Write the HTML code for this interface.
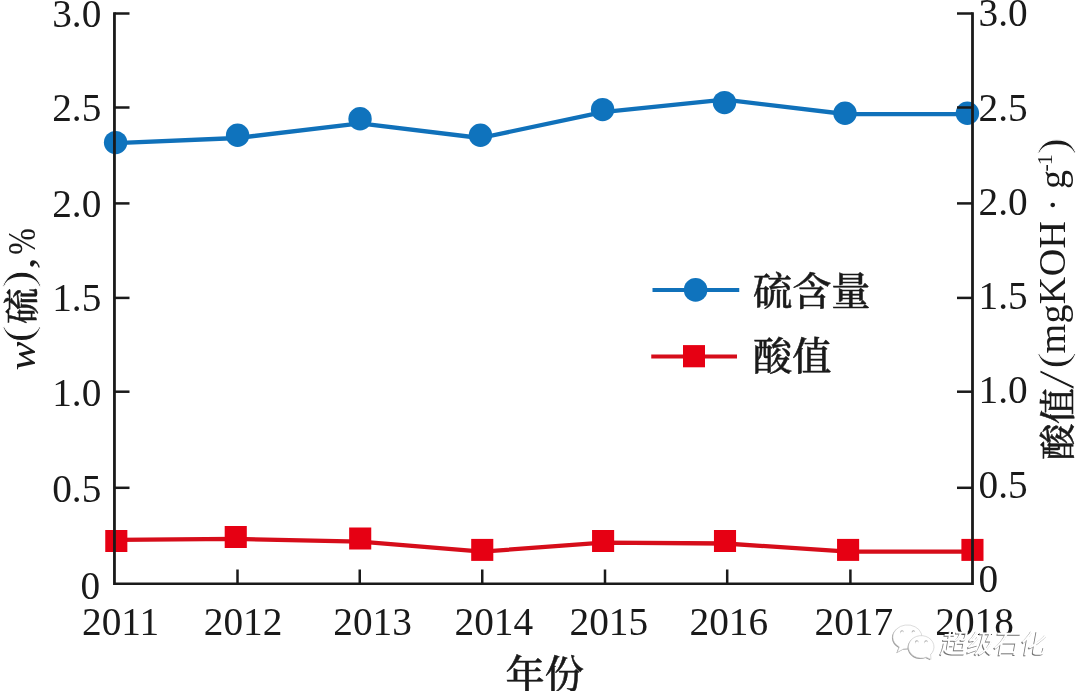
<!DOCTYPE html>
<html lang="zh"><head><meta charset="utf-8"><title>硫含量 酸值</title>
<style>
html,body{margin:0;padding:0;background:#fff;}
body{width:1080px;height:691px;overflow:hidden;}
svg{display:block;}
text{white-space:pre;}
.n{font-family:"Liberation Serif","Noto Serif CJK SC",serif;font-size:39.3px;fill:#1a1a1a;}
.i{font-family:"Liberation Serif","Noto Serif CJK SC",serif;font-style:italic;fill:#1a1a1a;}
.c{font-family:"Liberation Serif","Noto Serif CJK SC",serif;font-weight:500;fill:#1a1a1a;}
.b{stroke:#1a1a1a;stroke-width:0.5px;}
.w{font-family:"Liberation Sans","Noto Sans CJK SC",sans-serif;font-size:26.5px;}
</style></head><body>
<svg width="1080" height="691" viewBox="0 0 1080 691">
<rect width="1080" height="691" fill="#fff"/>
<polyline points="115.6,143.2 237.6,138 360,123.3 480.4,138 602.6,112.1 724.5,99.6 845,114 967.4,114.1" fill="none" stroke="#1071ba" stroke-width="4.3" stroke-linejoin="round"/>
<circle cx="115.6" cy="142.6" r="11.7" fill="#0f73bd"/><circle cx="237.6" cy="135.2" r="11.7" fill="#0f73bd"/><circle cx="360.05" cy="118.8" r="11.7" fill="#0f73bd"/><circle cx="480.45" cy="135.2" r="11.7" fill="#0f73bd"/><circle cx="602.6" cy="109.6" r="11.7" fill="#0f73bd"/><circle cx="724.5" cy="102.6" r="11.7" fill="#0f73bd"/><circle cx="845" cy="113.2" r="11.7" fill="#0f73bd"/><circle cx="967.4" cy="113.2" r="11.7" fill="#0f73bd"/>
<polyline points="116.3,539.8 235.75,538.9 360.2,541.6 482.25,551.6 603.1,542.7 725,543.5 848.1,551.6 972.45,551.7" fill="none" stroke="#d60d1a" stroke-width="4.3" stroke-linejoin="round"/>
<rect x="105.25" y="530" width="22.1" height="22" fill="#e60013"/><rect x="224.7" y="526" width="22.1" height="22" fill="#e60013"/><rect x="349.15" y="527.5" width="22.1" height="22" fill="#e60013"/><rect x="471.2" y="538.9" width="22.1" height="22" fill="#e60013"/><rect x="592.05" y="530" width="22.1" height="22" fill="#e60013"/><rect x="713.95" y="530" width="22.1" height="22" fill="#e60013"/><rect x="837.05" y="538.9" width="22.1" height="22" fill="#e60013"/><rect x="961.4" y="538.9" width="22.1" height="22" fill="#e60013"/>
<g stroke="#1a1a1a" stroke-width="2.8" fill="none" stroke-linecap="butt">
<path d="M114.45 12.25 V584.9"/><path d="M972.5 12.25 V584.9"/>
<path d="M114.45 583.7 H972.5" stroke-width="2.4"/>
</g>
<g stroke="#1a1a1a" stroke-width="2.5" fill="none">
<path d="M114.45 13.50 H129.5"/><path d="M972.5 13.50 H957"/>
<path d="M114.45 107.50 H129.5"/><path d="M972.5 107.50 H957"/>
<path d="M114.45 203.40 H129.5"/><path d="M972.5 203.40 H957"/>
<path d="M114.45 297.90 H129.5"/><path d="M972.5 297.90 H957"/>
<path d="M114.45 391.70 H129.5"/><path d="M972.5 391.70 H957"/>
<path d="M114.45 487.80 H129.5"/><path d="M972.5 487.80 H957"/>
<path d="M237.50 583.7 V569.5"/>
<path d="M359.75 583.7 V569.5"/>
<path d="M482.25 583.7 V569.5"/>
<path d="M605.00 583.7 V569.5"/>
<path d="M727.20 583.7 V569.5"/>
<path d="M850.40 583.7 V569.5"/>
</g>
<path d="M652.5 289.9 H739.25" stroke="#1071ba" stroke-width="4"/><circle cx="695.6" cy="289.9" r="11.8" fill="#0f73bd"/>
<path d="M651.25 356.4 H737" stroke="#d60d1a" stroke-width="4"/><rect x="683" y="345.1" width="22" height="22.2" fill="#e60013"/>
<text class="c b" x="753" y="304.6" font-size="39.2">硫含量</text>
<text class="c b" x="753" y="369.6" font-size="39.2">酸值</text>
<text class="n" x="101.3" y="26.70" text-anchor="end">3.0</text>
<text class="n" x="101.3" y="121.00" text-anchor="end">2.5</text>
<text class="n" x="101.3" y="217.10" text-anchor="end">2.0</text>
<text class="n" x="101.3" y="311.40" text-anchor="end">1.5</text>
<text class="n" x="101.3" y="405.50" text-anchor="end">1.0</text>
<text class="n" x="101.3" y="501.80" text-anchor="end">0.5</text>
<text class="n" x="100.2" y="599.00" text-anchor="end">0</text>
<text class="n" x="978.6" y="26.40">3.0</text>
<text class="n" x="978.6" y="120.65">2.5</text>
<text class="n" x="978.6" y="214.90">2.0</text>
<text class="n" x="978.6" y="309.15">1.5</text>
<text class="n" x="978.6" y="403.40">1.0</text>
<text class="n" x="978.6" y="497.65">0.5</text>
<text class="n" x="978.6" y="591.90">0</text>
<text class="n" x="82.05" y="635.2">2011</text>
<text class="n" x="203.8" y="635.2">2012</text>
<text class="n" x="333.3" y="635.2">2013</text>
<text class="n" x="454.55" y="635.2">2014</text>
<text class="n" x="569.55" y="635.2">2015</text>
<text class="n" x="689.55" y="635.2">2016</text>
<text class="n" x="814.55" y="635.2">2017</text>
<text class="n" x="935.3" y="635.2">2018</text>
<text class="c b" x="505.5" y="687.6" font-size="39.2">年份</text>
<g><text class="i" style="font-size:38px" transform="translate(34.70 370.45) rotate(-90) scale(1.15 1)">w</text><text class="n" style="font-size:42px" transform="translate(31.70 342.90) rotate(-90) scale(1.3 1)" stroke="#fff" stroke-width="0.9">(</text><text class="c b" style="font-size:36px" transform="translate(35.20 323.97) rotate(-90)">硫</text><text class="n" style="font-size:42px" transform="translate(31.70 288.06) rotate(-90) scale(1.3 1)" stroke="#fff" stroke-width="0.9">)</text><text class="n" style="font-size:38px" transform="translate(33.70 269.38) rotate(-90) scale(1.3 1)">,</text><text class="n" style="font-size:39px" transform="translate(34.70 254.69) rotate(-90) scale(0.815 1)">%</text></g>
<g><text class="c b" style="font-size:36.5px" transform="translate(1070.50 459.92) rotate(-90)">酸</text><text class="c b" style="font-size:36.5px" transform="translate(1070.50 424.05) rotate(-90)">值</text><text class="n" style="font-size:51px" transform="translate(1073.00 389.50) rotate(-90) scale(1.4 1)" stroke="#fff" stroke-width="0.8">/</text><text class="n" style="font-size:43px" transform="translate(1067.10 369.07) rotate(-90) scale(1.2 1)" stroke="#fff" stroke-width="0.9">(</text><text class="n" style="font-size:38px" transform="translate(1065.30 353.4) rotate(-90)"><tspan letter-spacing="0.35">mgKOH</tspan> · g<tspan style="font-size:22px" dy="-13" dx="-1.5 -1">-1</tspan></text><text class="n" style="font-size:43px" transform="translate(1067.10 154.86) rotate(-90) scale(1.2 1)" stroke="#fff" stroke-width="0.9">)</text></g>
<g id="wm">
<path d="M892.8 637.2 A14.6 12.3 0 1 1 914 648.2 L903.6 648.9 L897.2 652.4 L899.3 646.9 A14.6 12.3 0 0 1 892.8 637.2 Z" fill="#9a9a9a" transform="translate(-0.9 0.9)"/>
<path d="M892.8 637.2 A14.6 12.3 0 1 1 914 648.2 L903.6 648.9 L897.2 652.4 L899.3 646.9 A14.6 12.3 0 0 1 892.8 637.2 Z" fill="#fff" stroke="#c4c4c4" stroke-width="0.6"/>
<circle cx="902" cy="631.9" r="1.7" fill="#a8a8a8"/><circle cx="902.3" cy="632.9" r="1.7" fill="#fff"/><circle cx="913.4" cy="631.9" r="1.7" fill="#a8a8a8"/><circle cx="913.7" cy="632.9" r="1.7" fill="#fff"/>
<path d="M908.4 646.9 A12.8 11.3 0 1 1 930.6 654.6 L931 659.4 L926.2 657.2 A12.8 11.3 0 0 1 908.4 646.9 Z" fill="#9a9a9a" transform="translate(-0.9 0.9)"/>
<path d="M908.4 646.9 A12.8 11.3 0 1 1 930.6 654.6 L931 659.4 L926.2 657.2 A12.8 11.3 0 0 1 908.4 646.9 Z" fill="#fff" stroke="#c4c4c4" stroke-width="0.6"/>
<circle cx="916.8" cy="641.9" r="1.7" fill="#a8a8a8"/><circle cx="917.1" cy="642.9" r="1.7" fill="#fff"/><circle cx="926.1" cy="641.9" r="1.7" fill="#a8a8a8"/><circle cx="926.4" cy="642.9" r="1.7" fill="#fff"/>
<g style="filter:drop-shadow(-1px 1px 0 #747474)"><text class="w" transform="translate(939.5 653.2) skewX(-10)" fill="#fff">超级石化</text></g>
</g>
</svg>
</body></html>
